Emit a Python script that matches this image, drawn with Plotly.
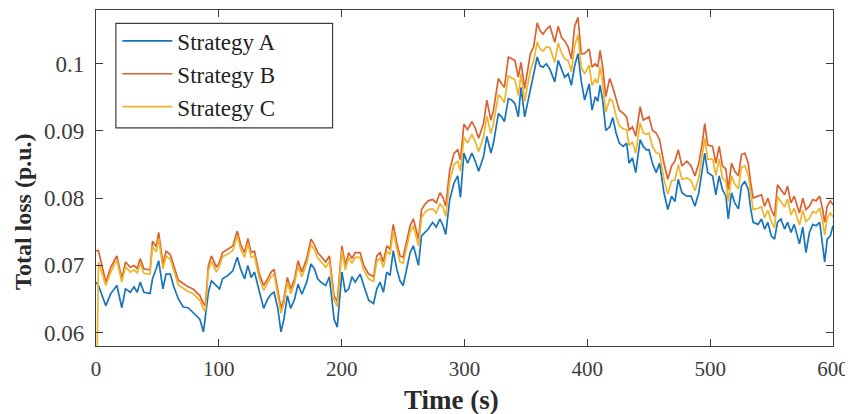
import plotly.graph_objects as go

# ---- data ----
time_s = [0, 2, 8, 12, 17, 21, 24, 28, 31, 33.5, 36, 39, 44, 46, 49, 51, 54.5, 57, 60.5, 63,
          67, 71, 75, 79, 82, 84.5, 87.5, 89, 91.5, 94, 98,
          100.6, 103, 107.4, 111.4, 115, 117.8, 121, 123.6, 126.3, 129, 133, 136.5, 139.8, 142.5,
          145, 148, 150.6, 153, 155.8, 158.5, 161.7, 164.5, 167.6, 171.5, 175, 177.8, 180.5, 183,
          187, 190, 193.8, 196.4,
          200.2, 203, 205.7, 208.4, 211, 215, 218, 222, 226, 228.6, 231.3, 234, 236.7, 239.4, 242,
          244.8, 247.5, 250, 253, 255.7, 258.4, 262.5, 265, 267.8, 270.5, 274, 277, 280, 282.5,
          284.7, 288, 291.5, 294.5, 296.7, 299.5,
          302.5, 306, 308.8, 311.5, 315.5, 318.2, 321.5, 323.6, 327.6, 330.3, 332.5, 335.7, 338.4,
          341, 343.8, 346, 349, 353.6, 356.3, 359.2, 361.5, 364, 366.6, 369.5, 373.5, 376.3, 379,
          381.6, 384.4, 387, 389.7, 392.4, 395, 397.8,
          401.5, 403.8, 406.5, 408.5, 410.4, 412.5, 415, 418.2, 420.7, 423.4, 426, 429.3, 432, 434,
          436.7, 439.4, 443, 445.5, 448, 450.2, 453, 456, 458.8, 462.4, 465.5, 468.6, 471.3, 474,
          477, 481, 484.5, 487.6, 490.7, 493.2, 495.6, 498,
          502, 504.6, 507.3, 510, 512.8, 514.7, 517.4, 520, 523, 525.5, 528.2, 531, 533, 535, 539,
          541.8, 544.3, 547, 549.7, 552.4, 554.8, 557.5, 560.6, 563, 565.8, 568.4, 572.7, 575.4,
          578, 580.8, 583.5, 586.2, 589.2, 591.6, 593.2, 595.3, 597.8, 600]

strategy_a = [0.0675, 0.067, 0.064, 0.0658, 0.067, 0.0637, 0.0665, 0.066, 0.0668, 0.066, 0.0675,
              0.066, 0.0658, 0.068, 0.0695, 0.0707, 0.0665, 0.0687, 0.0687, 0.067,
              0.065, 0.0638, 0.0637, 0.063, 0.0625, 0.062, 0.0601, 0.0625, 0.066, 0.0677, 0.067,
              0.0665, 0.068, 0.0685, 0.0692, 0.0712, 0.0694, 0.068, 0.07, 0.0682, 0.069, 0.066,
              0.0636, 0.065, 0.0657, 0.066, 0.0636, 0.0601, 0.062, 0.0655, 0.0636, 0.065, 0.0672,
              0.0657, 0.0675, 0.0702, 0.0695, 0.068, 0.0675, 0.067, 0.0683, 0.062, 0.0608,
              0.069, 0.066, 0.0665, 0.0683, 0.0675, 0.0687, 0.067, 0.0648, 0.0643, 0.0665, 0.0675,
              0.066, 0.069, 0.0685, 0.0722, 0.0695, 0.0677, 0.067, 0.0695, 0.0719, 0.0729, 0.07,
              0.0744, 0.0749, 0.0754, 0.0764, 0.0757, 0.0769, 0.0759, 0.0746, 0.0798, 0.0823,
              0.0833, 0.0801, 0.0867,
              0.0852, 0.0867, 0.0855, 0.084, 0.0862, 0.0892, 0.0867, 0.0882, 0.0926, 0.0921,
              0.0914, 0.0948, 0.0946, 0.0941, 0.0921, 0.0965, 0.0921, 0.096, 0.0983, 0.101,
              0.0997, 0.0995, 0.1, 0.0992, 0.0973, 0.1005, 0.0992, 0.098, 0.0985, 0.0968, 0.0997,
              0.1015, 0.0975, 0.0946,
              0.097, 0.0931, 0.0951, 0.0944, 0.0968, 0.0946, 0.0901, 0.0906, 0.092, 0.0897, 0.0882,
              0.0877, 0.0882, 0.0852, 0.086, 0.0838, 0.0887, 0.0877, 0.0872, 0.0872, 0.0852,
              0.0838, 0.0852, 0.0808, 0.0783, 0.0803, 0.0795, 0.0828, 0.0808, 0.0803, 0.0803,
              0.0788, 0.0808, 0.0842, 0.0867, 0.0838,
              0.0833, 0.0805, 0.0833, 0.0813, 0.0803, 0.0769, 0.0808, 0.0793, 0.0784, 0.0818,
              0.0825, 0.0813, 0.0784, 0.0764, 0.0761, 0.0769, 0.0754, 0.0764, 0.0744, 0.0739,
              0.0764, 0.0769, 0.0754, 0.0764, 0.0749, 0.0761, 0.0732, 0.0757, 0.0719, 0.0749,
              0.0761, 0.0759, 0.0764, 0.0729, 0.0705, 0.0739, 0.0744, 0.0759]

strategy_b = [0.0722, 0.0722, 0.0675, 0.0697, 0.0714, 0.068, 0.0705, 0.0697, 0.07, 0.0695, 0.071,
              0.0695, 0.0693, 0.0736, 0.0728, 0.0749, 0.0702, 0.0721, 0.0716, 0.07,
              0.0678, 0.0673, 0.0668, 0.0665, 0.066, 0.0655, 0.0643, 0.064, 0.07, 0.0714, 0.0697,
              0.0705, 0.0719, 0.0724, 0.0729, 0.0751, 0.0731, 0.0719, 0.074, 0.0719, 0.0721,
              0.0687, 0.067, 0.068, 0.069, 0.0694, 0.0665, 0.0636, 0.065, 0.0682, 0.0665, 0.068,
              0.0707, 0.069, 0.071, 0.0739, 0.0731, 0.0719, 0.0714, 0.0705, 0.0714, 0.0655, 0.0646,
              0.0729, 0.07, 0.0719, 0.071, 0.0719, 0.0719, 0.07, 0.0687, 0.0683, 0.0714, 0.0719,
              0.0705, 0.0729, 0.0724, 0.0761, 0.0734, 0.0714, 0.0712, 0.0739, 0.0759, 0.0769,
              0.0739, 0.0783, 0.0791, 0.0796, 0.0798, 0.0793, 0.0808, 0.0801, 0.0788, 0.0842,
              0.0867, 0.0872, 0.0857, 0.091,
              0.0902, 0.0914, 0.0904, 0.0889, 0.0911, 0.0946, 0.0916, 0.0931, 0.0978, 0.097,
              0.0965, 0.101, 0.1007, 0.1005, 0.098, 0.1002, 0.0963, 0.1015, 0.1025, 0.1061,
              0.1049, 0.1044, 0.1051, 0.1056, 0.1032, 0.1056, 0.1039, 0.1034, 0.1025, 0.1007,
              0.1056, 0.1069, 0.1015, 0.1015,
              0.1022, 0.0995, 0.1, 0.0995, 0.102, 0.0995, 0.0951, 0.0978, 0.0965, 0.0946, 0.0931,
              0.0926, 0.0921, 0.0901, 0.0906, 0.0892, 0.0936, 0.0916, 0.0918, 0.0921, 0.0901,
              0.0897, 0.0887, 0.0852, 0.0828, 0.0848, 0.0855, 0.0872, 0.0848, 0.0855, 0.0848,
              0.0833, 0.0852, 0.0877, 0.0911, 0.0879,
              0.0877, 0.0852, 0.0877, 0.0848, 0.0843, 0.0813, 0.0852, 0.084, 0.0833, 0.0865,
              0.0867, 0.0852, 0.0823, 0.08, 0.0803, 0.0805, 0.0788, 0.08, 0.0783, 0.0773,
              0.082, 0.0813, 0.0805, 0.0818, 0.0793, 0.0803, 0.0778, 0.08, 0.0783, 0.0788,
              0.0798, 0.0796, 0.0803, 0.0783, 0.0764, 0.0788, 0.0796, 0.079]

strategy_c = [0.045, 0.0705, 0.067, 0.069, 0.0708, 0.0675, 0.0698, 0.069, 0.0693, 0.0689, 0.0703,
              0.0688, 0.0687, 0.0728, 0.072, 0.074, 0.0695, 0.0714, 0.0709, 0.0693,
              0.0671, 0.0666, 0.0661, 0.0658, 0.0653, 0.0648, 0.0635, 0.0632, 0.0692, 0.0706, 0.069,
              0.0699, 0.0713, 0.0717, 0.0722, 0.0744, 0.0724, 0.0712, 0.0733, 0.0712, 0.0714,
              0.068, 0.0663, 0.0673, 0.0683, 0.0687, 0.0658, 0.0629, 0.0643, 0.0675, 0.0658,
              0.0673, 0.0699, 0.0683, 0.0703, 0.0731, 0.0723, 0.0711, 0.0706, 0.0697, 0.0706,
              0.0648, 0.0639,
              0.0722, 0.0693, 0.0712, 0.0703, 0.0712, 0.0712, 0.0693, 0.068, 0.0676, 0.0706,
              0.0711, 0.0697, 0.0721, 0.0716, 0.0752, 0.0725, 0.0705, 0.0703, 0.073, 0.075,
              0.0759, 0.0729, 0.0771, 0.0779, 0.0783, 0.0784, 0.0778, 0.0792, 0.0786, 0.0773,
              0.0826, 0.085, 0.0855, 0.084, 0.0891,
              0.0882, 0.0895, 0.0884, 0.0869, 0.0891, 0.0922, 0.0896, 0.0911, 0.0954, 0.0949,
              0.0942, 0.0982, 0.0979, 0.0976, 0.0953, 0.0985, 0.0944, 0.099, 0.1004, 0.1032,
              0.1022, 0.1019, 0.1025, 0.1024, 0.1002, 0.1031, 0.1016, 0.1007, 0.1005, 0.0988,
              0.1027, 0.1043, 0.0995, 0.0985,
              0.0998, 0.0968, 0.0977, 0.0971, 0.0996, 0.0972, 0.0928, 0.0948, 0.0944, 0.0922,
              0.0908, 0.0903, 0.0902, 0.0878, 0.0884, 0.0867, 0.0912, 0.0897, 0.0895, 0.0897,
              0.0877, 0.0868, 0.0866, 0.0828, 0.0806, 0.0826, 0.0827, 0.085, 0.0828, 0.083,
              0.0826, 0.0811, 0.083, 0.0857, 0.0889, 0.0858,
              0.0858, 0.0834, 0.0858, 0.083, 0.0825, 0.0795, 0.0833, 0.0821, 0.0814, 0.0846,
              0.0848, 0.0834, 0.0805, 0.0783, 0.0785, 0.0787, 0.0771, 0.0782, 0.0765, 0.0756,
              0.0802, 0.0795, 0.0787, 0.0799, 0.0775, 0.0785, 0.076, 0.0782, 0.0765, 0.077,
              0.078, 0.0778, 0.0785, 0.0765, 0.0745, 0.077, 0.0778, 0.0772]

series_names = ["Strategy A", "Strategy B", "Strategy C"]
series_colors = ["#1874bb", "#db6130", "#eeb42a"]

x_ticks = [0, 100, 200, 300, 400, 500, 600]
y_ticks = [0.06, 0.07, 0.08, 0.09, 0.1]
y_tick_labels = ["0.06", "0.07", "0.08", "0.09", "0.1"]

FONT = "Liberation Serif, Times New Roman, serif"
AX = "#3c3c3c"

fig = go.Figure()
for name, ys, col in zip(series_names, [strategy_a, strategy_b, strategy_c], series_colors):
    fig.add_trace(go.Scatter(x=time_s, y=ys, mode="lines", name=name,
                             line=dict(color=col, width=1.7)))

# the page body has an 8px default margin, so the figure is 8px smaller and margins shifted
fig.update_layout(
    width=845, height=406,
    margin=dict(l=88, r=20, t=2, b=68),
    paper_bgcolor="white", plot_bgcolor="white",
    font=dict(family=FONT, size=22, color=AX),
    showlegend=True,
    legend=dict(x=0.029, y=0.972, xanchor="left", yanchor="top",
                bgcolor="rgba(0,0,0,0)", borderwidth=0,
                font=dict(family=FONT, size=23, color="#222222"),
                itemwidth=50, tracegroupgap=0),
    xaxis=dict(range=[0, 600], tickvals=x_ticks, ticks="inside", ticklen=7,
               tickcolor=AX, showline=True, linecolor=AX, linewidth=1.3, mirror="ticks",
               showgrid=False, zeroline=False, ticklabelstandoff=4, automargin=False,
               ticklabeloverflow="allow",
               tickfont=dict(family=FONT, size=21, color=AX)),
    yaxis=dict(range=[0.058, 0.108], tickvals=y_ticks, ticktext=y_tick_labels,
               ticks="inside", ticklen=7, tickcolor=AX, showline=True, linecolor=AX,
               linewidth=1.3, mirror="ticks", showgrid=False, zeroline=False,
               automargin=False, ticklabelstandoff=6,
               tickfont=dict(family=FONT, size=23, color=AX)),
)

# legend frame (MATLAB-style box, wider than the entries)
fig.add_shape(type="rect", xref="paper", yref="paper",
              x0=0.027, x1=0.321, y0=0.649, y1=0.960,
              line=dict(color=AX, width=1.2), fillcolor="white", layer="above")

fig.add_annotation(text="<b>Time (s)</b>", xref="paper", yref="paper",
                   x=0.482, y=-0.161, xanchor="center", yanchor="middle", showarrow=False,
                   font=dict(family=FONT, size=27, color="#2a2a2a"))
fig.add_annotation(text="<b>Total loss (p.u.)</b>", xref="paper", yref="paper",
                   x=-0.1, y=0.40, xanchor="center", yanchor="middle", showarrow=False,
                   textangle=-90, font=dict(family=FONT, size=24, color="#2a2a2a"))

fig.write_html("out.html")
